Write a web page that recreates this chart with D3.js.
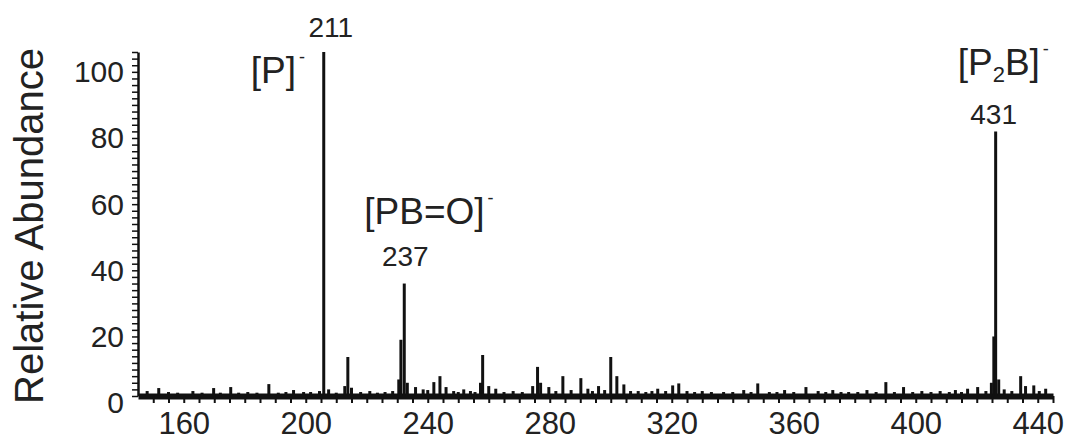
<!DOCTYPE html>
<html>
<head>
<meta charset="utf-8">
<script src="https://cdn.jsdelivr.net/npm/d3@7"></script>
<style>
  body { margin: 0; background: #fff; }
  svg { display: block; font-family: "Liberation Sans", Arial, sans-serif; }
</style>
</head>
<body>
<script>
// m/z axis range and tick labels
const mzDomain = [145, 445];
const xLabelValues = [160, 200, 240, 280, 320, 360, 400, 440];
const yLabelValues = [0, 20, 40, 60, 80, 100];
const yMax = 104;

// stick spectrum: [m/z, relative abundance]
const peaks = [
  [148, 1.5], [151.8, 2.4], [155, 1.2], [158, 1], [163, 1.5], [166, 1], [169.8, 2.4],
  [172, 1], [175.4, 2.7], [178, 1], [181, 1.2], [184, 1], [187.9, 3.6], [191, 1],
  [193.5, 1.2], [196, 1.8], [199.3, 1.2], [201.6, 1.2], [204.5, 1.5],
  [205.9, 104], [207.5, 2], [210, 1], [212.8, 3], [213.8, 11.8], [215, 2.5],
  [218, 1.2], [221, 1.5], [223.5, 1], [226, 1.2], [228.5, 1.5],
  [230.5, 5], [231.2, 17], [232.3, 34], [233.3, 4], [236, 2.7], [238.5, 2],
  [240, 1.8], [242, 4.2], [244, 6], [246, 2.7], [248.5, 1.5], [250, 1.2],
  [251.8, 2], [254, 1.5], [255.5, 1.2], [257.3, 4], [258, 12.4], [260, 3],
  [262.3, 2.2], [265, 1.2], [268, 1.5], [271, 1.2], [274.4, 3], [276, 8.8],
  [277, 4], [279.7, 2.7], [282, 1.5], [284.3, 6], [287, 1.8], [290.2, 5.4],
  [292.5, 2.2], [294, 1.5], [296, 3], [298, 1.8], [300, 11.8], [302, 6],
  [304.3, 3.5], [306.5, 1.5], [309, 1.5], [311.5, 1.2], [313.5, 1.5],
  [315.4, 2.2], [318, 1.5], [320.3, 3.2], [322.3, 3.8], [325, 1.5], [327.5, 1.2],
  [330, 1.5], [333, 1.2], [337, 1.2], [340, 1.2], [343.6, 1.8], [346, 1.2],
  [348.2, 3.8], [352, 1.2], [354.5, 1.2], [357, 1.8], [360, 1.2], [364, 2.7],
  [368, 1.5], [370.5, 1.2], [372.8, 1.8], [375.5, 1.2], [378, 1.2], [381, 1.2],
  [384, 1.8], [387, 1.2], [390.2, 4.2], [393, 1.2], [396, 2.7], [399, 1.2],
  [402, 1.5], [405, 1.2], [408, 1.5], [411, 1.2], [413, 1.8], [415, 1.2],
  [417, 2.2], [420.3, 2.7], [423, 1.5], [424.8, 4], [425.6, 18], [426.2, 80],
  [427.2, 5], [429, 2], [431.5, 1.5], [434.4, 6], [436, 3], [438.7, 3.2],
  [440.5, 1.5], [442.6, 2.2]
];

// labelled peaks: position of the stick, nominal mass and ion formula parts
const labelPeaks = [
  { mz: 205.9, value: 104, mass: "211", ion: [["[P]", ""], ["-", "sup"]] },
  { mz: 232.3, value: 34, mass: "237", ion: [["[PB=O]", ""], ["-", "sup"]] },
  { mz: 426.2, value: 80, mass: "431", ion: [["[P", ""], ["2", "sub"], ["B]", ""], ["-", "sup"]] }
];

const width = 1072;
const height = 441;

const svg = d3.select("body").append("svg")
    .attr("width", width)
    .attr("height", height)
    .attr("viewBox", [0, 0, width, height]);

const x = d3.scaleLinear().domain(mzDomain).range([138, 1053]);
const y = d3.scaleLinear().domain([0, yMax]).range([396, 52]);

// y axis with minor ticks every 2 units
svg.append("g")
    .attr("transform", `translate(${x(mzDomain[0])},0)`)
    .call(d3.axisLeft(y)
        .tickValues(d3.range(0, yMax + 0.1, 2))
        .tickSize(6)
        .tickSizeOuter(0)
        .tickPadding(8)
        .tickFormat(d => yLabelValues.includes(d) ? d : ""))
    .call(g => g.select(".domain").attr("stroke", "#111").attr("stroke-width", 2.5))
    .call(g => g.selectAll(".tick line").attr("stroke", "#111").attr("stroke-width", 1.5))
    .call(g => g.selectAll(".tick text")
        .attr("font-size", 30)
        .attr("fill", "#222")
        .attr("dy", "0.55em"));

// x axis with ticks every 5 m/z
svg.append("g")
    .attr("transform", `translate(0,${y(0)})`)
    .call(d3.axisBottom(x)
        .tickValues(d3.range(150, mzDomain[1] + 0.1, 5))
        .tickSize(7)
        .tickSizeOuter(0)
        .tickPadding(9)
        .tickFormat(d => xLabelValues.includes(d) ? d : ""))
    .call(g => g.select(".domain").attr("stroke", "#111").attr("stroke-width", 6))
    .call(g => g.selectAll(".tick line").attr("stroke", "#111").attr("stroke-width", 2))
    .call(g => g.selectAll(".tick text")
        .attr("font-size", 31)
        .attr("fill", "#222"));

// sticks
svg.append("g")
    .attr("stroke", "#111")
    .attr("stroke-width", 3)
  .selectAll("line")
  .data(peaks)
  .join("line")
    .attr("x1", d => x(d[0]))
    .attr("x2", d => x(d[0]))
    .attr("y1", y(0))
    .attr("y2", d => y(d[1]));

// y axis title
svg.append("text")
    .attr("transform", "translate(43,226) rotate(-90)")
    .attr("text-anchor", "middle")
    .attr("font-size", 40)
    .attr("fill", "#222")
    .text("Relative Abundance");

// label placement relative to each labelled stick (pixels)
const labelLayout = [
  { massDx: 7, massDy: -15, ionDx: -73, ionY: 83 },
  { massDx: 1, massDy: -18, ionDx: -40, ionY: 224 },
  { massDx: -2, massDy: -7, ionDx: -38, ionY: 75 }
];

labelPeaks.forEach((p, i) => {
  const L = labelLayout[i];
  svg.append("text")
      .attr("x", x(p.mz) + L.massDx)
      .attr("y", y(p.value) + L.massDy)
      .attr("text-anchor", "middle")
      .attr("font-size", 28)
      .attr("fill", "#222")
      .text(p.mass);

  const t = svg.append("text")
      .attr("x", x(p.mz) + L.ionDx)
      .attr("y", L.ionY)
      .attr("font-size", 37)
      .attr("fill", "#222");
  p.ion.forEach(([s, kind]) => {
    const ts = t.append("tspan").text(s);
    if (kind === "sup") ts.attr("font-size", 18).attr("dx", 3).attr("dy", -20);
    if (kind === "sub") ts.attr("font-size", 22).attr("dy", 7);
    if (kind === "" && i === 2 && s === "B]") ts.attr("dy", -7);
  });
});
</script>
</body>
</html>
